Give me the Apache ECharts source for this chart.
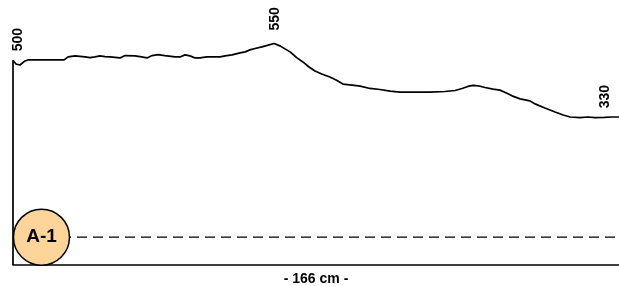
<!DOCTYPE html>
<html>
<head>
<meta charset="utf-8">
<script src="https://cdn.jsdelivr.net/npm/echarts@6/dist/echarts.min.js"></script>
<style>
  html, body { margin: 0; padding: 0; background: #fff; }
  #chart { width: 619px; height: 286px; }
</style>
</head>
<body>
<div id="chart"></div>
<script>
// profile: distance along the section (cm) and height
var distanceCm = [0, 0.8, 1.9, 3.3, 4.1, 14.0, 15.1, 17.0, 19.7, 21.1, 22.5, 23.8, 25.2, 26.6, 29.3,
  30.7, 33.4, 34.8, 36.7, 38.1, 39.7, 41.6, 44.4, 45.8, 47.1, 48.5, 49.9, 51.2, 53.1, 55.3,
  56.7, 58.1, 60.0, 62.2, 63.6, 64.9, 66.3, 68.2, 69.9, 71.5, 73.1, 74.5, 75.9, 77.8, 79.4,
  81.1, 82.7, 84.6, 86.8, 88.5, 90.4, 92.9, 95.1, 97.8, 100.5, 103.3, 106.0, 110.1, 114.2, 118.3,
  121.1, 123.0, 124.6, 126.0, 127.4, 129.3, 131.5, 133.4, 135.3, 136.7, 138.9, 141.6, 143.0, 145.7, 148.5,
  150.7, 152.6, 155.3, 157.5, 159.4, 161.9, 164.1, 166.0];
var heights = [500, 489, 486, 498, 501, 501, 510, 513, 510, 508, 510, 513, 511, 510, 507,
  514, 513, 511, 507, 514, 517, 514, 510, 510, 516, 513, 507, 507, 510, 510,
  510, 513, 516, 522, 525, 531, 535, 540, 545, 550, 543, 534, 525, 507, 495,
  480, 468, 459, 450, 441, 429, 426, 423, 416, 413, 408, 405, 405, 405, 407,
  410, 416, 422, 425, 424, 419, 414, 411, 402, 394, 385, 379, 370, 358, 346,
  337, 331, 329, 331, 329, 330, 331, 331];
// points that carry a height label
var labelledAt = [0, 71.5, 161.9];
var labelGap = [9, 13, 9];

var baseLevel = -110;     // bottom of the section
var topLevel = 620;
var sectionLength = 166;
var referenceLevel = -27; // dashed line
var markerName = 'A-1';
var markerAt = 7.8;

var profile = [[0, baseLevel]];
for (var i = 0; i < distanceCm.length; i++) {
  var k = labelledAt.indexOf(distanceCm[i]);
  if (k >= 0) {
    profile.push({
      value: [distanceCm[i], heights[i]],
      label: {
        show: true,
        position: 'top',
        distance: labelGap[k],
        offset: k === 0 ? [0, 5] : [0, 1],
        rotate: 90,
        align: 'left',
        verticalAlign: 'middle',
        fontFamily: 'Liberation Sans',
        fontWeight: 'bold',
        fontSize: 14,
        color: '#000',
        formatter: function (p) { return p.value[1]; }
      }
    });
  } else {
    profile.push([distanceCm[i], heights[i]]);
  }
}

var chart = echarts.init(document.getElementById('chart'));
chart.setOption({
  animation: false,
  backgroundColor: '#fff',
  grid: { left: 13, right: 0, top: 20, bottom: 21, outerBoundsMode: 'none', containLabel: false },
  xAxis: {
    type: 'value',
    min: 0,
    max: sectionLength,
    name: '- ' + sectionLength + ' cm -',
    nameLocation: 'middle',
    nameGap: 7,
    nameTextStyle: { fontFamily: 'Liberation Sans', fontWeight: 'bold', fontSize: 14, color: '#000' },
    axisLine: { show: true, onZero: false, lineStyle: { color: '#000', width: 1.5 } },
    axisTick: { show: false },
    axisLabel: { show: false },
    splitLine: { show: false }
  },
  yAxis: {
    type: 'value',
    min: baseLevel,
    max: topLevel,
    show: false
  },
  series: [
    {
      type: 'line',
      data: [[0, referenceLevel], [sectionLength, referenceLevel]],
      symbol: 'none',
      lineStyle: { color: '#000', width: 1.4, type: [10, 6] },
      z: 1
    },
    {
      type: 'line',
      data: profile,
      showSymbol: true,
      symbolSize: 0,
      lineStyle: { color: '#000', width: 1.7 },
      itemStyle: { color: '#000' },
      z: 2
    },
    {
      type: 'scatter',
      data: [[markerAt, referenceLevel]],
      symbolSize: 56,
      clip: false,
      itemStyle: { color: '#FDD59B', borderColor: '#000', borderWidth: 1.5, opacity: 1 },
      label: {
        show: true,
        position: 'inside',
        formatter: markerName,
        fontFamily: 'Liberation Sans',
        fontWeight: 'bold',
        fontSize: 19,
        color: '#000'
      },
      z: 3
    }
  ]
});
</script>
</body>
</html>
